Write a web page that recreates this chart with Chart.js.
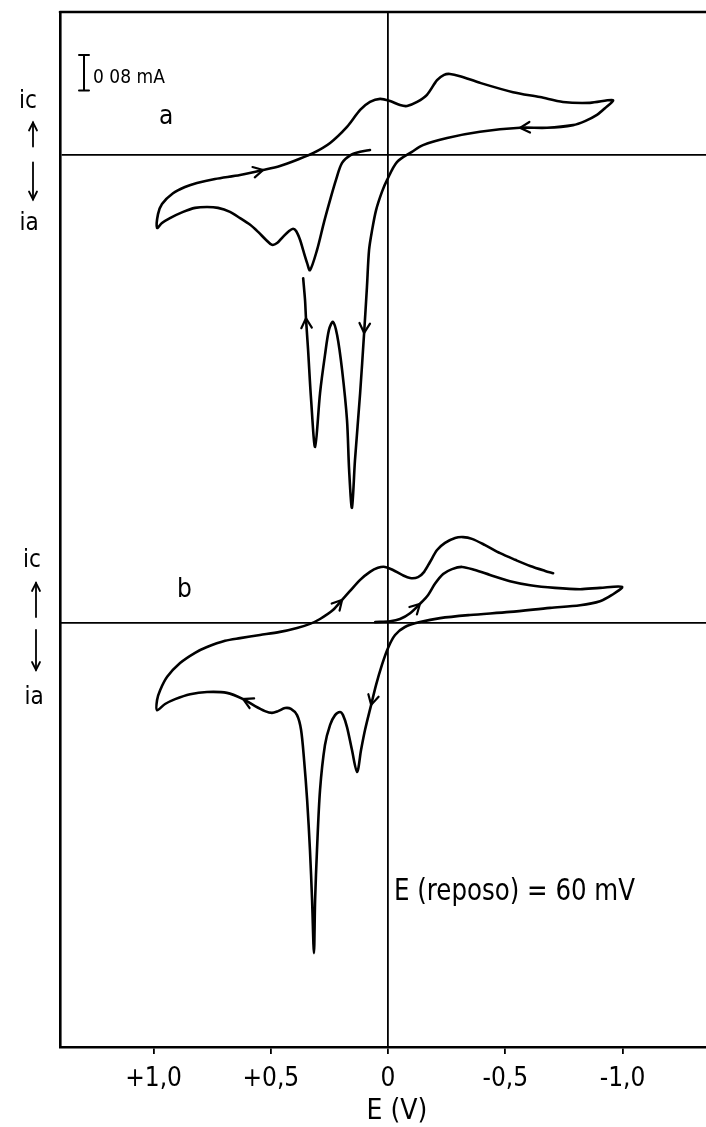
<!DOCTYPE html>
<html>
<head>
<meta charset="utf-8">
<script src="https://cdn.jsdelivr.net/npm/chart.js@4.4.1/dist/chart.umd.min.js"></script>
<style>
  html, body { margin: 0; padding: 0; background: #fff; }
  #wrap { width: 706px; height: 1127px; }
</style>
</head>
<body>
<div id="wrap"><canvas id="cv" width="706" height="1127"></canvas></div>
<script>
// potential axis (V), drawn reversed: positive on the left
var eTicks = [1, 0.5, 0, -0.5, -1];
var E_MIN = -1.356, E_MAX = 1.399;

// curve a: one continuous sweep, starting near the rest potential
var eA = [0.077, 0.119, 0.158, 0.196, 0.222, 0.247, 0.273, 0.303, 0.333, 0.345,
  0.362, 0.375, 0.392, 0.405, 0.422, 0.448, 0.473, 0.495, 0.520, 0.554,
  0.588, 0.631, 0.674, 0.725, 0.772, 0.823, 0.874, 0.930, 0.964, 0.985,
  0.981, 0.964, 0.917, 0.866, 0.815, 0.738, 0.631, 0.533, 0.461, 0.388,
  0.320, 0.247, 0.175, 0.119, 0.077, 0.034, -0.009, -0.051, -0.081, -0.124,
  -0.166, -0.209, -0.239, -0.264, -0.307, -0.392, -0.533, -0.648, -0.746, -0.861,
  -0.959, -0.925, -0.891, -0.840, -0.789, -0.678, -0.563, -0.392, -0.252, -0.149,
  -0.102, -0.038, 0.004, 0.026, 0.051, 0.068, 0.081, 0.090, 0.102, 0.119,
  0.141, 0.154, 0.166, 0.175, 0.196, 0.217, 0.235, 0.252, 0.269, 0.290,
  0.311, 0.328, 0.341, 0.350, 0.354, 0.362];
var iA = [0.010, 0.006, -0.001, -0.019, -0.057, -0.102, -0.152, -0.215, -0.260, -0.244,
  -0.215, -0.192, -0.172, -0.167, -0.172, -0.185, -0.199, -0.203, -0.192, -0.174,
  -0.158, -0.143, -0.129, -0.120, -0.118, -0.120, -0.129, -0.143, -0.154, -0.165,
  -0.134, -0.111, -0.087, -0.073, -0.064, -0.055, -0.046, -0.035, -0.026, -0.012,
  0.003, 0.026, 0.062, 0.100, 0.118, 0.125, 0.120, 0.111, 0.109, 0.118,
  0.134, 0.167, 0.179, 0.181, 0.176, 0.161, 0.140, 0.129, 0.118, 0.116,
  0.122, 0.104, 0.089, 0.075, 0.066, 0.060, 0.060, 0.051, 0.037, 0.021,
  0.006, -0.017, -0.057, -0.084, -0.125, -0.170, -0.215, -0.298, -0.401, -0.536,
  -0.687, -0.794, -0.709, -0.597, -0.484, -0.406, -0.376, -0.394, -0.451, -0.536,
  -0.657, -0.552, -0.439, -0.368, -0.327, -0.278];

// curve b
var eB = [0.055, -0.009, -0.051, -0.094, -0.136, -0.171, -0.200, -0.235, -0.273, -0.316,
  -0.371, -0.435, -0.520, -0.606, -0.712, -0.819, -0.904, -0.998,
  -0.955, -0.904, -0.819, -0.691, -0.520, -0.350, -0.222, -0.136, -0.072, -0.030,
  0.000, 0.026, 0.051, 0.072, 0.098, 0.115, 0.132, 0.154, 0.175, 0.192,
  0.205, 0.226, 0.247, 0.269, 0.290, 0.303, 0.311, 0.316, 0.324, 0.333,
  0.345, 0.358, 0.371, 0.388, 0.414, 0.439, 0.469, 0.495, 0.525, 0.567,
  0.618, 0.687, 0.772, 0.844, 0.908, 0.951, 0.985,
  0.985, 0.972, 0.942, 0.887, 0.823, 0.772, 0.695, 0.631, 0.546, 0.461,
  0.388, 0.333, 0.290, 0.235, 0.196, 0.162, 0.119, 0.077, 0.043, 0.013,
  -0.021, -0.060, -0.094, -0.128, -0.154, -0.179, -0.209, -0.243, -0.286, -0.320,
  -0.358, -0.414, -0.478, -0.542, -0.606, -0.670, -0.704];
var iB = [0.002, 0.004, 0.009, 0.022, 0.043, 0.063, 0.088, 0.110, 0.121, 0.126,
  0.119, 0.108, 0.094, 0.085, 0.079, 0.076, 0.079, 0.081,
  0.063, 0.049, 0.040, 0.034, 0.025, 0.018, 0.011, 0.002, -0.009, -0.027,
  -0.056, -0.094, -0.139, -0.184, -0.240, -0.285, -0.335, -0.285, -0.234, -0.207,
  -0.200, -0.207, -0.229, -0.274, -0.375, -0.510, -0.622, -0.742, -0.622, -0.510,
  -0.398, -0.308, -0.240, -0.207, -0.193, -0.191, -0.198, -0.202, -0.198, -0.187,
  -0.171, -0.157, -0.155, -0.160, -0.171, -0.182, -0.196,
  -0.173, -0.151, -0.121, -0.090, -0.067, -0.054, -0.040, -0.034, -0.027, -0.020,
  -0.011, -0.002, 0.009, 0.029, 0.052, 0.072, 0.097, 0.115, 0.124, 0.126,
  0.119, 0.108, 0.101, 0.103, 0.115, 0.137, 0.164, 0.180, 0.191, 0.193,
  0.189, 0.175, 0.157, 0.142, 0.128, 0.117, 0.112];

// sweep direction marks: [E, i] of a point on the curve
var arrowsA = [[0.533, -0.035], [-0.563, 0.060], [0.102, -0.401], [0.350, -0.368]];
var arrowsB = [[-0.136, 0.043], [0.196, 0.052], [0.618, -0.171], [0.072, -0.184]];

function toPoints(es, is) {
  return es.map(function (e, k) { return { x: e, y: is[k] }; });
}

function tickText(v) {
  if (v === 0) return '0';
  return (v > 0 ? '+' : '-') + Math.abs(v).toFixed(1).replace('.', ',');
}

var FONT = "'DejaVu Sans Condensed', 'Liberation Sans Narrow', 'DejaVu Sans', sans-serif";

function chevron(ctx, x, y, ang, len) {
  var w = 0.5;
  ctx.beginPath();
  ctx.moveTo(x - len * Math.cos(ang - w), y - len * Math.sin(ang - w));
  ctx.lineTo(x, y);
  ctx.lineTo(x - len * Math.cos(ang + w), y - len * Math.sin(ang + w));
  ctx.stroke();
}

function drawSweepArrows(chart, di, marks) {
  var meta = chart.getDatasetMeta(di);
  var xs = chart.scales.x, ys = chart.scales[meta.yAxisID];
  var ctx = chart.ctx;
  marks.forEach(function (m) {
    var px = xs.getPixelForValue(m[0]), py = ys.getPixelForValue(m[1]);
    var best = 0, bd = Infinity;
    meta.data.forEach(function (p, k) {
      var d = (p.x - px) * (p.x - px) + (p.y - py) * (p.y - py);
      if (d < bd) { bd = d; best = k; }
    });
    var a = meta.data[Math.max(best - 1, 0)], b = meta.data[Math.min(best + 1, meta.data.length - 1)];
    var ang = Math.atan2(b.y - a.y, b.x - a.x);
    chevron(ctx, meta.data[best].x, meta.data[best].y, ang, 11);
  });
}

function vArrow(ctx, x, y0, y1) {
  // shaft from y0 to y1, head at y1
  ctx.beginPath(); ctx.moveTo(x, y0); ctx.lineTo(x, y1); ctx.stroke();
  var dir = y1 > y0 ? 1 : -1;
  ctx.beginPath();
  ctx.moveTo(x - 4, y1 - dir * 8); ctx.lineTo(x, y1); ctx.lineTo(x + 4, y1 - dir * 8);
  ctx.stroke();
}

var notes = {
  id: 'notes',
  afterDraw: function (chart) {
    var ctx = chart.ctx, a = chart.chartArea;
    var x = chart.scales.x, ya = chart.scales.ya, yb = chart.scales.yb;
    ctx.save();
    ctx.strokeStyle = '#000';
    ctx.fillStyle = '#000';
    ctx.lineCap = 'round';

    // top edge of the frame
    ctx.lineWidth = 2.6;
    ctx.beginPath(); ctx.moveTo(a.left, a.top); ctx.lineTo(a.right, a.top); ctx.stroke();

    // sweep direction
    ctx.lineWidth = 2.2;
    drawSweepArrows(chart, 0, arrowsA);
    drawSweepArrows(chart, 1, arrowsB);

    // tick labels and axis title
    ctx.textAlign = 'center';
    ctx.textBaseline = 'alphabetic';
    ctx.font = '26px ' + FONT;
    eTicks.forEach(function (v) {
      ctx.fillText(tickText(v), x.getPixelForValue(v), a.bottom + 39);
    });
    ctx.font = '28px ' + FONT;
    ctx.fillText('E (V)', 397, 1119, 76);

    // current scale bar, 0.08 mA
    var z = ya.getPixelForValue(0), bar = z - ya.getPixelForValue(0.08);
    var bx = 84, by = 55;
    ctx.lineWidth = 2;
    ctx.beginPath();
    ctx.moveTo(bx, by); ctx.lineTo(bx, by + bar);
    ctx.moveTo(bx - 5, by); ctx.lineTo(bx + 5, by);
    ctx.moveTo(bx - 5, by + bar); ctx.lineTo(bx + 5, by + bar);
    ctx.stroke();
    ctx.textAlign = 'left';
    ctx.font = '19px ' + FONT;
    ctx.fillText('0 08 mA', 93, 83, 80);

    // curve names
    ctx.font = '26px ' + FONT;
    ctx.fillText('a', 159, 124);
    ctx.fillText('b', 177, 597);

    // rest potential
    ctx.font = '30px ' + FONT;
    ctx.fillText('E (reposo) = 60 mV', 394, 900, 241);

    // current direction keys on the left
    var zb = yb.getPixelForValue(0);
    ctx.font = '24px ' + FONT;
    ctx.textAlign = 'center';
    ctx.lineWidth = 1.8;
    ctx.fillText('ic', 28, z - 46);
    vArrow(ctx, 33, z - 8, z - 32);
    vArrow(ctx, 33, z + 8, z + 45);
    ctx.fillText('ia', 29, z + 76);
    ctx.fillText('ic', 32, zb - 56);
    vArrow(ctx, 36, zb - 6, zb - 40);
    vArrow(ctx, 36, zb + 7, zb + 47);
    ctx.fillText('ia', 34, zb + 81);

    ctx.restore();
  }
};

function zeroOnly(scale) { scale.ticks = [{ value: 0 }]; }

new Chart(document.getElementById('cv'), {
  type: 'scatter',
  data: {
    datasets: [
      { data: toPoints(eA, iA), yAxisID: 'ya', showLine: true },
      { data: toPoints(eB, iB), yAxisID: 'yb', showLine: true }
    ]
  },
  options: {
    responsive: false,
    animation: false,
    devicePixelRatio: 1,
    layout: { padding: { left: 60, top: 12, right: 0, bottom: 73 } },
    plugins: { legend: { display: false }, tooltip: { enabled: false } },
    elements: {
      point: { radius: 0, hoverRadius: 0 },
      line: { borderColor: '#000', borderWidth: 2.6, tension: 0.3, fill: false,
              borderCapStyle: 'round', borderJoinStyle: 'round' }
    },
    scales: {
      x: {
        type: 'linear', reverse: true, min: E_MIN, max: E_MAX,
        afterBuildTicks: function (s) { s.ticks = eTicks.map(function (v) { return { value: v }; }); },
        ticks: { display: false },
        grid: {
          color: function (c) { return c.tick && c.tick.value === 0 ? '#000' : 'rgba(0,0,0,0)'; },
          lineWidth: 1.8, tickColor: '#000', tickLength: 7, tickWidth: 1.8
        },
        border: { display: true, color: '#000', width: 2.6 }
      },
      ya: {
        type: 'linear', position: 'left', min: -2.0056, max: 0.3202,
        afterBuildTicks: zeroOnly,
        ticks: { display: false },
        grid: { color: '#000', lineWidth: 1.8, drawTicks: false },
        border: { display: true, color: '#000', width: 2.6 }
      },
      yb: {
        type: 'linear', position: 'right', min: -0.9528, max: 1.373,
        afterBuildTicks: zeroOnly,
        ticks: { display: false },
        grid: { color: '#000', lineWidth: 1.8, drawTicks: false },
        border: { display: false }
      }
    }
  },
  plugins: [notes]
});
</script>
</body>
</html>
